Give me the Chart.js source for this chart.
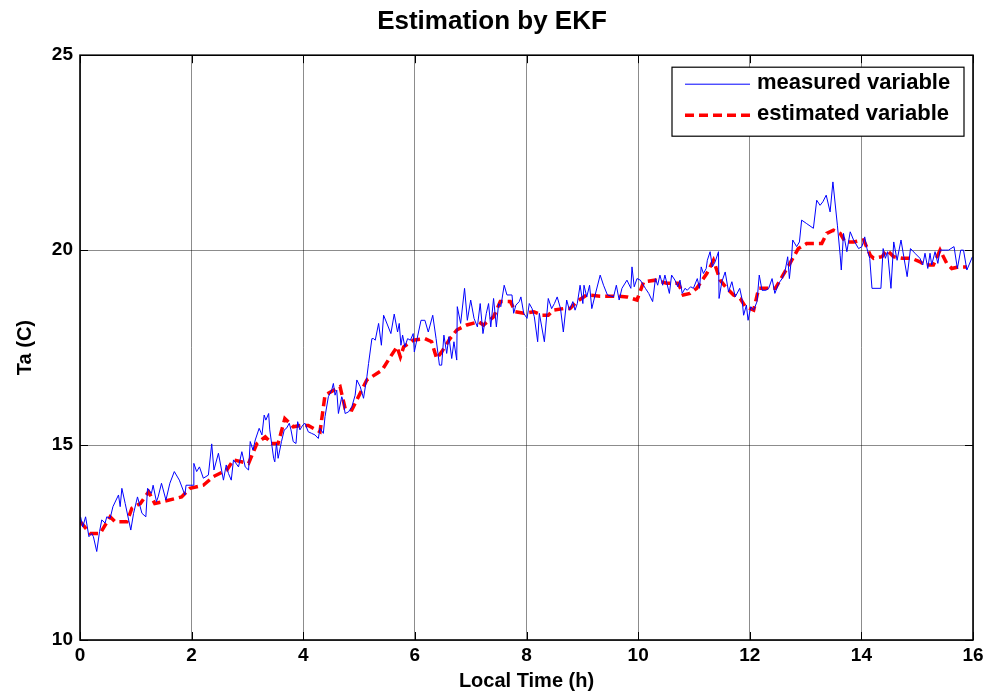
<!DOCTYPE html>
<html>
<head>
<meta charset="utf-8">
<title>Estimation by EKF</title>
<script src="https://cdn.jsdelivr.net/npm/chart.js@4.4.1/dist/chart.umd.min.js"></script>
<style>
  html, body { margin: 0; padding: 0; background: #fff; }
</style>
</head>
<body>
<canvas id="ekfChart" width="984" height="693"></canvas>
<script>
// tick labels
const xTicks = [0, 2, 4, 6, 8, 10, 12, 14, 16];
const yTicks = [10, 15, 20, 25];

// measured variable (Local Time h / Ta C)
const measuredTime = [0.01,0.05,0.1,0.16,0.21,0.24,0.3,0.35,0.39,0.45,0.48,0.54,0.59,0.69,0.72,0.75,0.81,0.91,0.96,1.03,1.11,1.18,1.21,1.28,1.31,1.37,1.4,1.46,1.54,1.61,1.69,1.78,1.88,1.9,2.03,2.04,2.09,2.14,2.21,2.3,2.36,2.4,2.48,2.57,2.62,2.66,2.71,2.75,2.84,2.9,2.96,3.02,3.05,3.1,3.14,3.21,3.26,3.3,3.33,3.38,3.4,3.47,3.49,3.52,3.55,3.61,3.66,3.7,3.75,3.78,3.82,3.87,3.9,3.94,3.99,4.03,4.09,4.15,4.21,4.27,4.3,4.36,4.39,4.45,4.51,4.54,4.57,4.6,4.63,4.69,4.72,4.75,4.81,4.87,4.93,4.96,5.02,5.08,5.14,
  5.17,5.23,5.26,5.29,5.35,5.4,5.44,5.51,5.57,5.63,5.69,5.72,5.75,5.78,5.82,5.87,5.92,5.97,5.99,6.11,6.18,6.24,6.32,6.38,6.44,6.48,6.52,6.57,6.61,6.66,6.7,6.75,6.76,6.82,6.89,6.94,7.0,7.06,7.12,7.17,7.22,7.28,7.32,7.36,7.41,7.46,7.5,7.54,7.6,7.65,7.74,7.77,7.81,7.87,7.9,7.95,8.01,8.05,8.1,8.14,8.2,8.23,8.32,8.39,8.45,8.5,8.55,8.61,8.66,8.72,8.77,8.83,8.87,8.91,8.96,9.01,9.03,9.08,9.13,9.17,9.23,9.32,
  9.38,9.45,9.56,9.61,9.66,9.71,9.8,9.87,9.89,9.93,9.98,10.04,10.13,10.19,10.26,10.31,10.35,10.39,10.44,10.48,10.56,10.6,10.66,10.71,10.75,10.79,10.84,10.88,10.94,10.99,11.06,11.1,11.13,11.17,11.22,11.24,11.29,11.33,11.38,11.44,11.45,11.5,11.56,11.62,11.68,11.74,11.82,11.86,11.89,11.94,11.97,12.02,12.07,12.13,12.17,12.22,12.29,12.34,12.4,12.45,12.52,12.58,12.63,12.68,12.71,12.75,12.77,12.84,12.89,12.93,13.02,13.14,13.2,13.26,13.31,13.37,13.44,13.49,13.57,13.62,13.64,13.68,13.74,13.8,13.86,13.95,14.01,14.06,14.1,14.15,14.19,14.35,14.39,14.43,14.47,14.53,14.58,14.64,14.71,14.76,14.82,14.88,14.96,15.05,15.1,15.14,15.19,15.23,15.26,15.32,15.37,15.41,15.5,15.56,15.66,15.72,15.78,15.83,15.89,15.99];
const measuredTemp = [13.16,12.9,13.16,12.65,12.73,12.65,12.27,12.78,13.08,13.0,13.16,13.12,13.42,13.72,13.42,13.89,13.5,12.82,13.25,13.67,13.25,13.16,13.89,13.76,13.97,13.55,13.67,14.02,13.59,14.02,14.32,14.1,13.72,13.97,13.97,14.53,14.32,14.44,14.15,14.23,15.03,14.36,14.79,14.1,14.49,14.27,14.1,14.62,14.44,14.83,14.44,14.36,15.09,14.87,15.13,15.43,15.26,15.77,15.64,15.81,15.39,14.66,14.57,15.04,14.66,15.09,15.39,15.43,15.56,15.39,15.09,15.04,15.6,15.39,15.51,15.56,15.34,15.3,15.26,15.17,15.43,15.3,15.73,16.24,16.41,16.58,16.28,16.41,15.81,16.24,16.11,15.81,15.85,15.98,16.28,16.67,16.5,16.2,16.75,
  17.09,17.73,17.73,17.69,18.12,17.56,18.33,18.08,17.86,18.36,17.9,18.12,17.56,17.82,17.52,17.73,17.69,17.86,17.39,18.2,18.2,17.9,18.33,17.73,17.05,17.05,17.82,17.35,17.78,17.22,17.65,17.18,18.55,18.12,19.02,18.2,18.72,18.25,18.03,18.63,17.86,18.38,18.63,18.03,18.76,18.03,18.63,18.55,19.1,18.85,18.85,18.38,18.59,18.68,18.8,18.38,18.25,18.63,18.5,18.29,17.65,18.38,17.65,18.76,18.5,18.63,18.8,18.5,17.9,18.72,18.46,18.68,18.46,18.63,19.1,18.63,19.1,18.8,19.1,18.5,18.85,19.36,
  19.1,18.85,18.8,19.1,18.72,19.02,19.23,19.02,19.57,19.06,19.27,19.23,19.02,18.89,18.68,19.27,19.1,19.36,19.1,19.36,18.89,19.36,19.23,19.06,19.23,18.89,19.02,18.97,19.06,19.02,19.27,19.02,19.57,19.4,19.53,19.74,19.96,19.57,19.7,19.96,18.76,19.19,19.44,18.93,19.19,18.8,19.02,18.76,18.33,18.59,18.2,18.55,18.46,18.68,19.36,18.97,18.97,19.02,19.27,18.89,19.15,19.27,19.44,19.83,19.27,19.83,20.26,20.09,20.21,20.77,20.68,20.56,21.28,21.15,21.24,21.41,20.98,21.75,20.64,19.87,19.49,20.43,19.96,20.47,20.26,20.04,20.09,20.34,20.04,19.79,19.02,19.02,20.04,19.79,19.96,19.02,20.21,19.74,20.26,19.83,19.32,20.04,19.92,19.79,19.62,19.92,19.53,19.92,19.62,19.96,19.66,20.0,20.0,20.0,20.09,19.53,20.0,20.0,19.49,19.83];

// estimated variable (EKF)
const estimatedTime = [0.01,0.18,0.36,0.54,0.63,0.84,0.93,1.08,1.23,1.34,1.49,1.82,1.97,2.21,2.39,2.63,2.75,3.02,3.17,3.32,3.44,3.55,3.67,3.82,3.97,4.09,4.3,4.39,4.6,4.66,4.75,4.87,5.14,5.41,5.56,5.68,5.74,5.8,5.97,6.18,6.3,6.39,6.48,6.63,6.75,6.93,7.14,7.23,7.41,7.53,7.71,7.8,7.95,8.13,8.28,8.39,8.48,8.66,8.78,8.9,9.08,9.32,9.62,9.8,9.98,10.1,10.31,10.51,10.72,10.81,10.93,11.05,11.23,11.35,11.47,11.59,11.71,11.83,11.92,12.07,12.16,12.46,12.58,12.72,12.87,13.02,13.29,13.38,13.5,13.62,13.71,13.86,14.04,14.16,14.22,14.37,14.46,14.58,14.73,14.9,15.05,15.14,15.29,15.41,15.53,15.62,15.74,15.89];
const estimatedTemp = [13.03,12.73,12.73,13.16,13.03,13.03,13.38,13.5,13.8,13.5,13.55,13.67,13.89,13.97,14.19,14.36,14.62,14.53,15.04,15.21,15.04,15.04,15.68,15.47,15.51,15.5,15.34,16.28,16.45,16.5,15.94,15.9,16.67,16.92,17.26,17.52,17.26,17.52,17.69,17.73,17.65,17.22,17.39,17.73,17.95,18.08,18.16,18.08,18.29,18.68,18.68,18.42,18.38,18.42,18.33,18.33,18.46,18.5,18.5,18.68,18.85,18.82,18.82,18.8,18.72,19.19,19.23,19.15,19.15,18.85,18.89,19.02,19.4,19.74,19.23,19.02,18.85,18.76,18.55,18.46,19.02,19.02,19.32,19.66,20.04,20.17,20.17,20.43,20.51,20.43,20.21,20.21,20.26,19.87,19.79,19.83,20.0,19.83,19.79,19.79,19.7,19.62,19.62,20.0,19.66,19.53,19.57,19.57];

const fontFamily = '"Liberation Sans", Arial, Helvetica, sans-serif';

function toPoints(xs, ys) {
  return xs.map((x, i) => ({ x: x, y: ys[i] }));
}

// box round the plot with small inward ticks, as in MATLAB
const axesFrame = {
  id: 'axesFrame',
  afterDraw(chart) {
    const ctx = chart.ctx;
    const a = chart.chartArea;
    const xs = chart.scales.x, ys = chart.scales.y;
    ctx.save();
    ctx.strokeStyle = '#000';
    ctx.lineWidth = 1;
    xTicks.forEach(t => {
      const px = Math.round(xs.getPixelForValue(t)) + 0.5;
      ctx.beginPath();
      ctx.moveTo(px, a.bottom); ctx.lineTo(px, a.bottom - 8);
      ctx.moveTo(px, a.top); ctx.lineTo(px, a.top + 8);
      ctx.stroke();
    });
    yTicks.forEach(t => {
      const py = Math.round(ys.getPixelForValue(t)) + 0.5;
      ctx.beginPath();
      ctx.moveTo(a.left, py); ctx.lineTo(a.left + 8, py);
      ctx.moveTo(a.right, py); ctx.lineTo(a.right - 8, py);
      ctx.stroke();
    });
    ctx.lineWidth = 1.6;
    ctx.strokeRect(a.left, a.top, a.right - a.left, a.bottom - a.top);
    ctx.restore();
  }
};

// legend drawn inside the axes, top right
const legendBox = {
  id: 'legendBox',
  afterDraw(chart) {
    const ctx = chart.ctx;
    const a = chart.chartArea;
    const x0 = a.right - 301, y0 = a.top + 12, w = 292, h = 69;
    ctx.save();
    ctx.fillStyle = '#fff';
    ctx.fillRect(x0, y0, w, h);
    ctx.strokeStyle = '#000';
    ctx.lineWidth = 1.2;
    ctx.strokeRect(x0, y0, w, h);
    chart.data.datasets.forEach((ds, i) => {
      const ly = y0 + 16 + i * 31;
      ctx.beginPath();
      ctx.strokeStyle = ds.borderColor;
      ctx.lineWidth = ds.borderWidth;
      ctx.setLineDash(ds.borderDash || []);
      ctx.moveTo(x0 + 13, ly + 1);
      ctx.lineTo(x0 + 78, ly + 1);
      ctx.stroke();
      ctx.setLineDash([]);
      ctx.fillStyle = '#000';
      ctx.font = 'bold 22px ' + fontFamily;
      ctx.textBaseline = 'middle';
      ctx.textAlign = 'left';
      ctx.fillText(ds.label, x0 + 85, ly);
    });
    ctx.restore();
  }
};

const ctx = document.getElementById('ekfChart').getContext('2d');
new Chart(ctx, {
  type: 'line',
  data: {
    datasets: [{
      label: 'measured variable',
      data: toPoints(measuredTime, measuredTemp),
      borderColor: '#0000ff',
      borderWidth: 1,
      pointRadius: 0,
      tension: 0
    }, {
      label: 'estimated variable',
      data: toPoints(estimatedTime, estimatedTemp),
      borderColor: '#ff0000',
      borderWidth: 3.5,
      borderDash: [9, 5],
      pointRadius: 0,
      tension: 0
    }]
  },
  options: {
    responsive: false,
    animation: false,
    layout: { padding: { left: 0, right: 0, top: 0, bottom: 0 } },
    plugins: {
      legend: { display: false },
      tooltip: { enabled: false },
      title: {
        display: true,
        text: 'Estimation by EKF',
        color: '#000',
        font: { family: fontFamily, size: 26, weight: 'bold' },
        padding: { top: 6, bottom: 18 }
      }
    },
    scales: {
      x: {
        type: 'linear',
        min: 0,
        max: 16,
        afterBuildTicks: scale => { scale.ticks = xTicks.map(v => ({ value: v })); },
        afterFit: scale => { scale.height = 53; scale.paddingRight = 11; },
        grid: { color: 'rgba(0,0,0,0.45)', lineWidth: 1, drawTicks: false },
        border: { display: false },
        ticks: {
          color: '#000',
          padding: 4,
          maxRotation: 0,
          font: { family: fontFamily, size: 19, weight: 'bold' }
        },
        title: {
          display: true,
          text: 'Local Time (h)',
          color: '#000',
          font: { family: fontFamily, size: 20, weight: 'bold' },
          padding: { top: 0, bottom: 0 }
        }
      },
      y: {
        type: 'linear',
        min: 10,
        max: 25,
        afterBuildTicks: scale => { scale.ticks = yTicks.map(v => ({ value: v })); },
        afterFit: scale => { scale.width = 80; },
        grid: { color: 'rgba(0,0,0,0.45)', lineWidth: 1, drawTicks: false },
        border: { display: false },
        ticks: {
          color: '#000',
          padding: 7,
          font: { family: fontFamily, size: 19, weight: 'bold' }
        },
        title: {
          display: true,
          text: 'Ta (C)',
          color: '#000',
          font: { family: fontFamily, size: 20, weight: 'bold' },
          padding: { top: 13, bottom: 0 }
        }
      }
    }
  },
  plugins: [axesFrame, legendBox]
});
</script>
</body>
</html>
